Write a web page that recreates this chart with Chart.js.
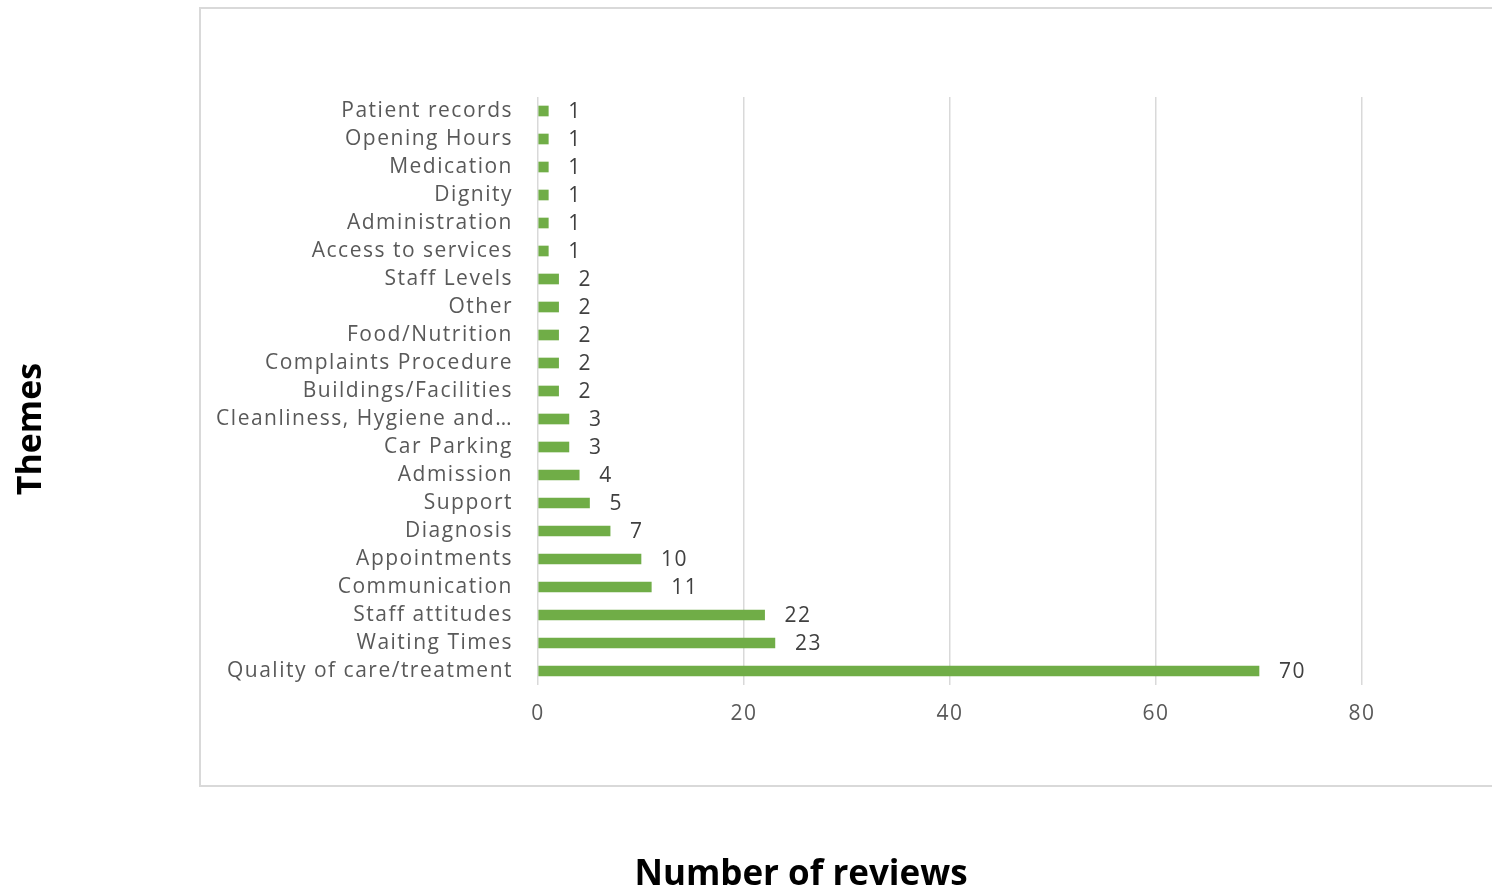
<!DOCTYPE html>
<html>
<head>
<meta charset="utf-8">
<script src="https://cdn.jsdelivr.net/npm/chart.js@4/dist/chart.umd.min.js"></script>
<style>
  html, body { margin: 0; padding: 0; background: #ffffff; overflow: hidden; }
  #wrap { position: relative; width: 1492px; height: 888px; }
  #frame { position: absolute; left: 199px; top: 7px; width: 1400px; height: 776px; border: 2px solid #d9d9d9; box-sizing: content-box; }
  canvas { position: absolute; left: 0; top: 0; }
</style>
</head>
<body>
<div id="wrap">
  <div id="frame"></div>
  <canvas id="c" width="1492" height="888"></canvas>
</div>
<script>
const categories = [
  "Patient records", "Opening Hours", "Medication", "Dignity", "Administration",
  "Access to services", "Staff Levels", "Other", "Food/Nutrition", "Complaints Procedure",
  "Buildings/Facilities", "Cleanliness, Hygiene and…", "Car Parking", "Admission", "Support",
  "Diagnosis", "Appointments", "Communication", "Staff attitudes", "Waiting Times",
  "Quality of care/treatment"
];
const reviewCounts = [1, 1, 1, 1, 1, 1, 2, 2, 2, 2, 2, 3, 3, 4, 5, 7, 10, 11, 22, 23, 70];
const xTickValues = [0, 20, 40, 60, 80];
const xTitle = 'Number of reviews';
const yTitle = 'Themes';

const labelFont = "'Open Sans', 'DejaVu Sans', sans-serif";
const spacing = '1.5px';

const spacingPlugin = {
  id: 'spacing',
  beforeUpdate(chart) { chart.ctx.letterSpacing = spacing; },
  beforeDraw(chart) { chart.ctx.letterSpacing = spacing; }
};

const valueLabels = {
  id: 'valueLabels',
  afterDatasetsDraw(chart) {
    const ctx = chart.ctx;
    const meta = chart.getDatasetMeta(0);
    ctx.save();
    ctx.letterSpacing = spacing;
    ctx.fillStyle = '#404040';
    ctx.font = "21px " + labelFont;
    ctx.textAlign = 'left';
    ctx.textBaseline = 'middle';
    meta.data.forEach((bar, i) => {
      ctx.fillText(String(reviewCounts[i]), bar.x + 20, bar.y + 1);
    });
    ctx.restore();
  }
};

const axisTitles = {
  id: 'axisTitles',
  afterDraw(chart) {
    const ctx = chart.ctx;
    ctx.save();
    ctx.letterSpacing = '0px';
    ctx.fillStyle = '#000000';
    ctx.font = "bold 35px " + labelFont;
    ctx.textAlign = 'center';
    ctx.textBaseline = 'middle';
    ctx.fillText(xTitle, 801, 875);
    ctx.translate(31, 429);
    ctx.rotate(-Math.PI / 2);
    ctx.font = "bold 34px " + labelFont;
    ctx.fillText(yTitle, 0, 0);
    ctx.restore();
  }
};

new Chart(document.getElementById('c'), {
  type: 'bar',
  data: {
    labels: categories,
    datasets: [{
      data: reviewCounts,
      backgroundColor: '#70ad47',
      borderWidth: 0,
      barThickness: 10
    }]
  },
  options: {
    indexAxis: 'y',
    responsive: false,
    animation: false,
    layout: { padding: { top: 97, right: 130, bottom: 0, left: 0 } },
    plugins: { legend: { display: false }, tooltip: { enabled: false } },
    scales: {
      x: {
        min: 0, max: 80,
        afterBuildTicks: (s) => { s.ticks = xTickValues.map(v => ({ value: v })); },
        afterFit: (s) => { s.height = 203; },
        grid: { color: '#d9d9d9', lineWidth: 1.5, drawTicks: false },
        border: { display: false },
        ticks: { color: '#595959', font: { size: 21, family: labelFont }, padding: 16 }
      },
      y: {
        afterFit: (s) => { s.width = 538; },
        grid: { display: false, drawTicks: false },
        border: { display: false },
        ticks: { color: '#595959', font: { size: 21, family: labelFont }, padding: 25, autoSkip: false }
      }
    }
  },
  plugins: [spacingPlugin, valueLabels, axisTitles]
});
</script>
</body>
</html>
